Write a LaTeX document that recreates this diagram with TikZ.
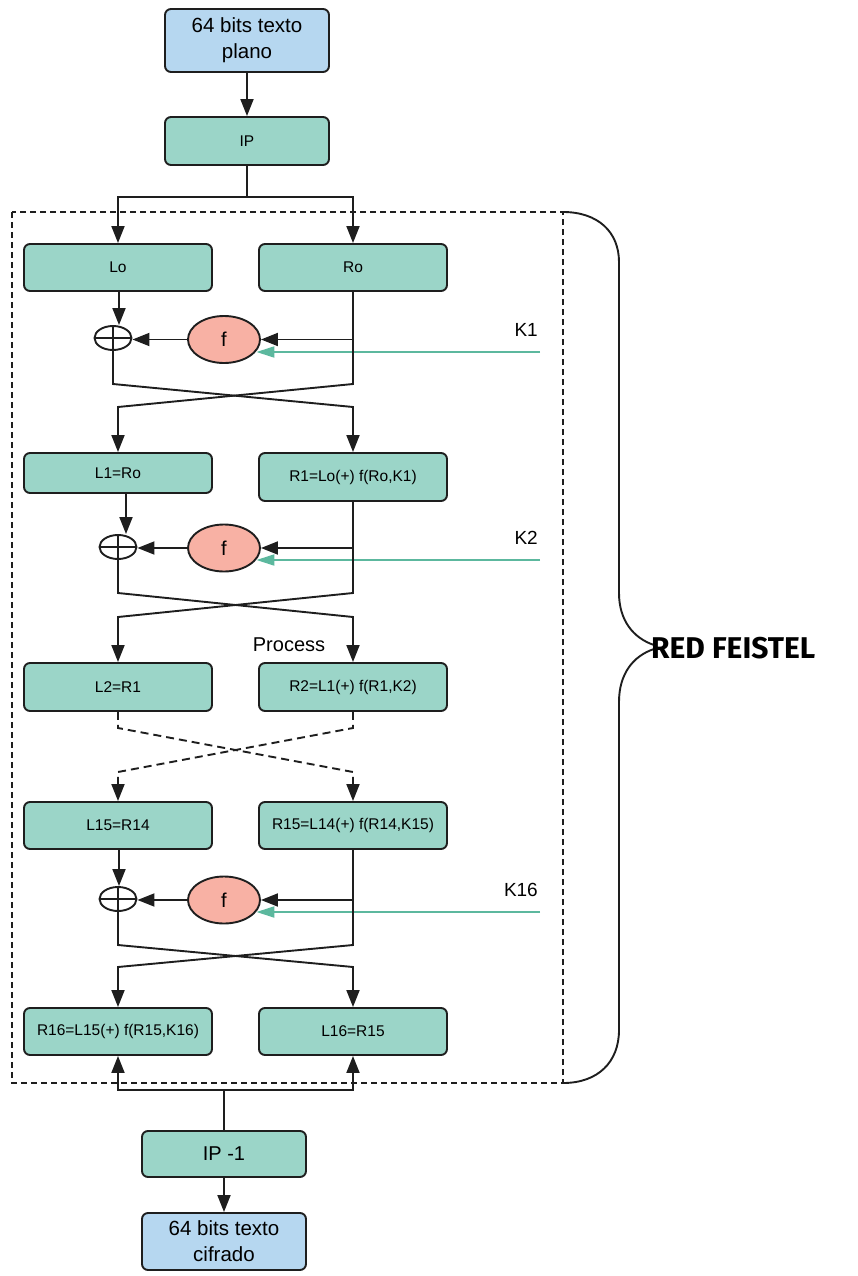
\documentclass[tikz,border=0pt]{standalone}
\usepackage{fontspec}
\setmainfont{Liberation Sans}
\newfontfamily\bracefont{Fira Sans}
\usetikzlibrary{arrows.meta,shapes.geometric,calc}

\definecolor{tealfill}{HTML}{9BD5C8}
\definecolor{bluefill}{HTML}{B6D7F0}
\definecolor{salmon}{HTML}{F8B1A4}
\definecolor{keyteal}{HTML}{5CB89E}
\definecolor{ink}{HTML}{1E1E1E}

\tikzset{
  box/.style={draw=ink, line width=1.9pt, rounded corners=6pt, fill=tealfill,
    inner sep=0pt, minimum width=188pt, minimum height=47pt,
    font=\fontsize{15.5}{17}\selectfont},
  bluebox/.style={box, fill=bluefill, minimum width=164pt, align=center,
    font=\fontsize{20.5}{26}\selectfont},
  fnode/.style={ellipse, draw=ink, line width=1.9pt, fill=salmon, inner sep=0pt,
    minimum width=72pt, minimum height=47pt, font=\fontsize{20}{22}\selectfont},
  xornode/.style={ellipse, draw=ink, line width=1.9pt, inner sep=0pt,
    minimum width=37pt, minimum height=24pt,
    path picture={\draw[ink, line width=1.9pt]
      (path picture bounding box.north) -- (path picture bounding box.south)
      (path picture bounding box.west) -- (path picture bounding box.east);}},
  wire/.style={draw=ink, line width=1.9pt},
  conn/.style={wire, -{Triangle[length=17pt,width=13pt]}},
  dconn/.style={conn, dash pattern=on 8pt off 5pt},
  keyline/.style={draw=keyteal, line width=1.9pt, -{Triangle[length=18pt,width=11pt]}},
  keylabel/.style={anchor=east, inner sep=0pt, font=\fontsize{19}{21}\selectfont},
}

\begin{document}
\begin{tikzpicture}[x=1pt, y=-1pt]
\useasboundingbox (0,0) rectangle (858,1276);

% input, initial permutation
\node[bluebox, minimum height=63pt] (plain) at (247,40.5) {64 bits texto\\plano};
\node[box, minimum width=164pt, minimum height=48pt] (ip) at (247,141) {IP};

% Feistel network frame
\draw[ink, line width=1.7pt, dash pattern=on 6pt off 4pt] (12,212) rectangle (563,1083);

% half blocks
\node[box] (lo)  at (118,267.5) {Lo};
\node[box] (ro)  at (353,267.5) {Ro};
\node[box, minimum height=40pt] (l1) at (118,473) {L1=Ro};
\node[box, minimum height=48pt] (r1) at (353,477) {R1=Lo(+) f(Ro,K1)};
\node[box, minimum height=48pt] (l2) at (118,687) {L2=R1};
\node[box, minimum height=48pt] (r2) at (353,687) {R2=L1(+) f(R1,K2)};
\node[box] (l15) at (118,825.5) {L15=R14};
\node[box] (r15) at (353,825.5) {R15=L14(+) f(R14,K15)};
\node[box] (r16) at (118,1031.5) {R16=L15(+) f(R15,K16)};
\node[box] (l16) at (353,1031.5) {L16=R15};

% round functions and xor gates
\node[fnode] (f1)  at (224,339.5) {f};
\node[fnode] (f2)  at (224,548) {f};
\node[fnode] (f16) at (224,900) {f};
\node[xornode] (x1)  at (113,338) {};
\node[xornode] (x2)  at (118,547) {};
\node[xornode] (x16) at (118,899) {};

% final permutation, output
\node[box, minimum width=164pt, minimum height=46pt, font=\fontsize{20}{22}\selectfont] (ipinv) at (224,1154) {IP -1};
\node[bluebox, minimum height=57pt] (cipher) at (224,1241.5) {64 bits texto\\cifrado};

% top connections
\draw[conn] (plain.south) -- (ip.north);
\coordinate (jt) at (247,197);
\draw[wire] (ip.south) -- (jt);
\draw[conn] (jt) -- (jt -| lo.north) -- (lo.north);
\draw[conn] (jt) -- (jt -| ro.north) -- (ro.north);

% round 1
\draw[conn] ([xshift=1pt]lo.south) -- ([xshift=1pt]lo.south |- x1.north);
\draw[conn] (ro.south |- f1.east) -- (f1.east);
\draw[conn] (f1.west) -- (f1.west -| x1.east);
\coordinate (k1) at (540,352);
\draw[keyline] (k1) -- (k1 -| f1.-20);
\node[keylabel] (k1t) at (538,330) {K1};
\draw[conn] (x1.south) -- (113,384) -- (353,407) -- (r1.north);
\draw[conn] (ro.south) -- (353,384) -- (118,407) -- (l1.north);

% round 2
\draw[conn] ([xshift=8pt]l1.south) -- ([xshift=8pt]l1.south |- x2.north);
\draw[conn] (r1.south |- f2.east) -- (f2.east);
\draw[conn] (f2.west) -- (f2.west -| x2.east);
\coordinate (k2) at (540,560);
\draw[keyline] (k2) -- (k2 -| f2.-20);
\node[keylabel] (k2t) at (538,538) {K2};
\draw[conn] (x2.south) -- (118,593) -- (353,617) -- (r2.north);
\draw[conn] (r1.south) -- (353,593) -- (118,617) -- (l2.north);
\node[font=\fontsize{20}{22}\selectfont, inner sep=0pt] (proc) at (289,645) {Process};

% rounds 3 to 14, elided
\draw[dconn] (l2.south) -- (118,728) -- (353,772) -- (r15.north);
\draw[dconn] (r2.south) -- (353,728) -- (118,772) -- (l15.north);

% round 16
\draw[conn] ([xshift=1pt]l15.south) -- ([xshift=1pt]l15.south |- x16.north);
\draw[conn] (r15.south |- f16.east) -- (f16.east);
\draw[conn] (f16.west) -- (f16.west -| x16.east);
\coordinate (k16) at (540,912);
\draw[keyline] (k16) -- (k16 -| f16.-20);
\node[keylabel] (k16t) at (538,890) {K16};
\draw[conn] (x16.south) -- (118,945) -- (353,967) -- (l16.north);
\draw[conn] (r15.south) -- (353,945) -- (118,967) -- (r16.north);

% bottom connections
\coordinate (jb) at (224,1090);
\draw[wire] (ipinv.north) -- (jb);
\draw[conn] (jb) -- (jb -| r16.south) -- (r16.south);
\draw[conn] (jb) -- (jb -| l16.south) -- (l16.south);
\draw[conn] (ipinv.south) -- (cipher.north);

% brace
\draw[ink, line width=1.9pt]
  (563,212) .. controls (598,212) and (619,232) .. (619,262) -- (619,593)
  .. controls (619,620) and (633,638) .. (654,645);
\draw[ink, line width=1.9pt]
  (654,649) .. controls (633,656) and (619,674) .. (619,702) -- (619,1030)
  .. controls (619,1062) and (598,1083) .. (563,1083);
\node[anchor=west, inner sep=0pt, font=\bracefont\bfseries\fontsize{30}{32}\selectfont] (feistel) at (651,648) {RED FEISTEL};
\end{tikzpicture}
\end{document}
